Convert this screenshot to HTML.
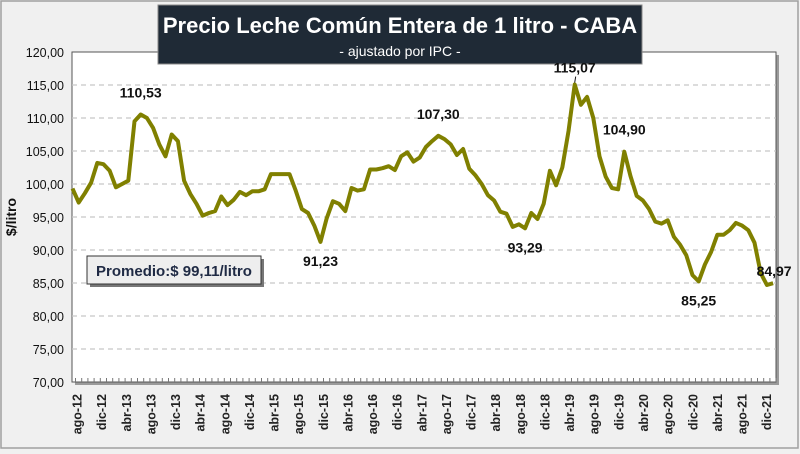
<!DOCTYPE html>
<html><head><meta charset="utf-8"><style>
body{margin:0;background:#fff;}
#wrap{position:relative;width:800px;height:454px;background:#f0f0f0;overflow:hidden;font-family:"Liberation Sans",sans-serif;}
</style></head><body>
<div id="wrap">
<svg id="chart" width="800" height="454"></svg>
</div>
<script>
const categories=["ago-12","dic-12","abr-13","ago-13","dic-13","abr-14","ago-14","dic-14","abr-15","ago-15","dic-15","abr-16","ago-16","dic-16","abr-17","ago-17","dic-17","abr-18","ago-18","dic-18","abr-19","ago-19","dic-19","abr-20","ago-20","dic-20","abr-21","ago-21","dic-21"];
const values=[99.3,97.2,98.6,100.2,103.2,103,102,99.5,100,100.5,109.5,110.53,110,108.5,106,104.2,107.5,106.5,100.5,98.5,97,95.2,95.6,95.9,98.1,96.8,97.6,98.8,98.3,98.9,98.9,99.2,101.5,101.5,101.5,101.5,99,96.2,95.6,93.7,91.23,94.8,97.4,97,95.9,99.4,99,99.2,102.2,102.2,102.4,102.7,102.1,104.2,104.8,103.4,104,105.6,106.5,107.3,106.8,106,104.4,105.3,102.3,101.3,100,98.3,97.5,95.8,95.5,93.5,93.9,93.29,95.6,94.7,97,102,99.8,102.5,108,115.07,112,113.2,110,104.2,101.1,99.4,99.2,104.9,101.2,98.2,97.5,96.2,94.3,94,94.5,92,90.8,89.2,86.2,85.25,87.8,89.7,92.3,92.3,93,94.1,93.7,93,91.1,86.5,84.7,84.97];
const yTicks=[70,75,80,85,90,95,100,105,110,115,120];
const annotations=[{i:11,t:"110,53",dy:-17},{i:40,t:"91,23",dy:20},{i:59,t:"107,30",dy:-17},{i:73,t:"93,29",dy:20},{i:81,t:"115,07",dy:-12},{i:89,t:"104,90",dy:-17},{i:101,t:"85,25",dy:20},{i:113,t:"84,97",dy:-7}];
const NS="http://www.w3.org/2000/svg";
const svg=document.getElementById('chart');
function el(tag,attrs,parent){const e=document.createElementNS(NS,tag);for(const k in attrs)e.setAttribute(k,attrs[k]);(parent||svg).appendChild(e);return e;}
const L=72,R=776,T=52,B=382;
function y(v){return T+(120-v)*(B-T)/50;}
function x(i){return 72.5+i*6.2;}
let f=el('rect',{x:1,y:1,width:797,height:447,fill:'#f0f0f0',stroke:'#a0a0a0','stroke-width':1.5});


el('rect',{x:L+3,y:T+3,width:R-L,height:B-T,fill:'#9a9a9a'});
let pa=el('rect',{x:L,y:T,width:R-L,height:B-T,fill:'#fff',stroke:'#555','stroke-width':1});


yTicks.forEach(v=>{
 if(v>70&&v<120){let g=el('line',{x1:L,x2:R,y1:y(v),y2:y(v),stroke:'#c8c8c8','stroke-dasharray':'5,4','stroke-width':1.2});
 
 }
 let t=el('text',{x:64,y:y(v)+5,'text-anchor':'end','font-size':12.5,fill:'#111'});
 t.textContent=v.toFixed(2).replace('.',',');
 
 
});
let yt=el('text',{x:0,y:0,transform:'translate(16,217) rotate(-90)','text-anchor':'middle','font-size':14,'font-weight':'bold',fill:'#111'});
yt.textContent='$/litro';


for(let i=0;i<values.length;i++){let tk=el('line',{x1:x(i)+3,x2:x(i)+3,y1:B,y2:B-4,stroke:'#777','stroke-width':1});

}
categories.forEach((c,k)=>{
 const cx=76.5+k*24.63;
 let t=el('text',{x:0,y:0,transform:`translate(${cx+5},${B+12}) rotate(-90)`,'text-anchor':'end','font-size':12.5,'font-weight':'bold',fill:'#222'});
 t.textContent=c;
 
 
});
let d=values.map((v,i)=>(i?'L':'M')+x(i).toFixed(1)+','+y(v).toFixed(1)).join(' ');
let p=el('path',{d:d,fill:'none',stroke:'#808000','stroke-width':4,'stroke-linejoin':'round'});


let tb=el('rect',{x:158,y:5,width:484,height:59,fill:'#1f2a36',stroke:'#888','stroke-width':1});


let tt=el('text',{x:400,y:33,'text-anchor':'middle','font-size':22,'font-weight':'bold',fill:'#fff'});
tt.textContent='Precio Leche Común Entera de 1 litro - CABA';


let st=el('text',{x:400,y:56,'text-anchor':'middle','font-size':14,fill:'#fff'});
st.textContent='- ajustado por IPC -';


annotations.forEach(a=>{
 const vx=x(a.i),vy=y(values[a.i]);
 let t=el('text',{x:vx+(a.i===113?1:0),y:vy+a.dy+(a.dy>0?4:0),'text-anchor':'middle','font-size':14,'font-weight':'bold',fill:'#111'});
 t.textContent=a.t;
 
 
});
el('line',{x1:x(81),y1:y(115.07)-2,x2:x(81)+1,y2:y(115.07)-8,stroke:'#111','stroke-width':1});
el('rect',{x:90,y:259,width:174,height:28,fill:'#777'});
let pb=el('rect',{x:87,y:256,width:174,height:28,fill:'#eeeeee',stroke:'#333','stroke-width':1});


let pt=el('text',{x:174,y:276,'text-anchor':'middle','font-size':15,'font-weight':'bold',fill:'#1f2a44'});
pt.textContent='Promedio:$ 99,11/litro';


</script>
</body></html>
